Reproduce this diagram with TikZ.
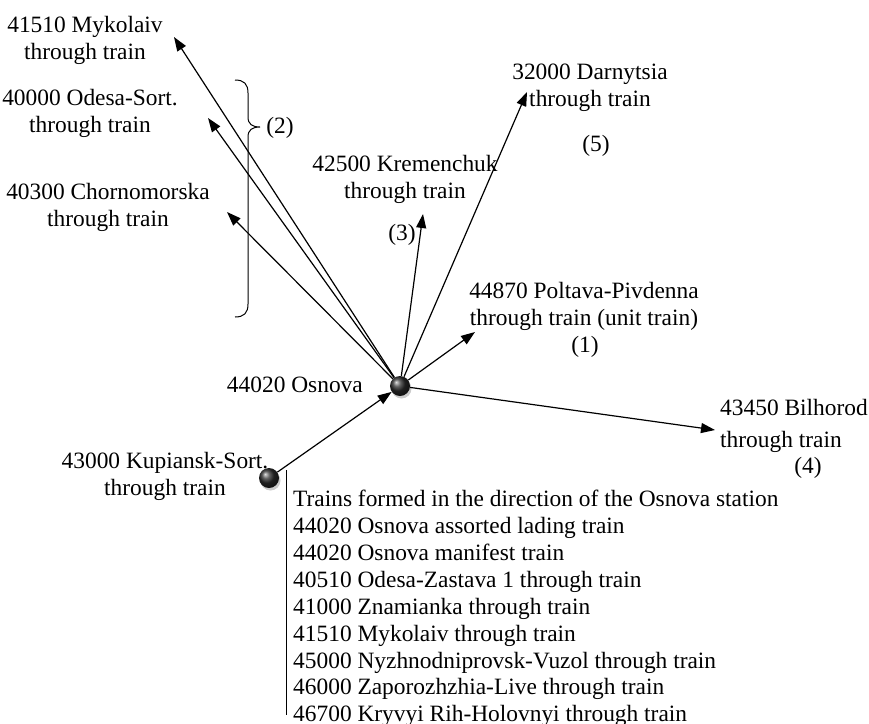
\documentclass[tikz,border=0pt]{standalone}
\usepackage{fontspec}
\setmainfont{Liberation Serif}
\usetikzlibrary{arrows.meta,shadows}

\begin{document}
\begin{tikzpicture}[x=1pt,y=1pt]
\tikzset{every node/.style={inner sep=0pt,font=\fontsize{23.4}{26.9}\selectfont},
  station/.style={circle,minimum size=20pt,shading=ball,ball color=gray!35!black,
    drop shadow={shadow xshift=1.5pt,shadow yshift=-2.5pt,fill=gray!80}},
  route/.style={line width=1.2pt,-{Triangle[length=14pt,width=10pt]}}}
\useasboundingbox (0,0) rectangle (869,-723);
\node [station] (osn) at (400,-386) {};
\node [station] (kups) at (269,-478) {};
\node [anchor=east] (osnl) at (363,-385) {44020 Osnova};
\node [align=center] (kup) at (165,-476) {43000 Kupiansk-Sort.\\through train};
\node [align=center] (myk) at (85,-40) {41510 Mykolaiv\\through train};
\node [align=center] (ode) at (90,-113) {40000 Odesa-Sort.\\through train};
\node [align=center] (cho) at (108,-207) {40300 Chornomorska\\through train};
\node [align=center] (kre) at (405,-179) {42500 Kremenchuk\\through train};
\node [align=center] (dar) at (590,-88) {32000 Darnytsia\\through train};
\node [align=center] (pol) at (584,-306) {44870 Poltava-Pivdenna\\through train (unit train)};
\node [align=left,anchor=west] (bil) at (720,-426) {43450 Bilhorod\\[5pt]through train};
\node (n1) at (585,-347) {(1)};
\node (n2) at (280,-128) {(2)};
\node (n3) at (402,-235) {(3)};
\node (n4) at (808,-468) {(4)};
\node (n5) at (596,-146) {(5)};
\node [align=left,anchor=north west] (list) at (293,-490) {Trains formed in the direction of the Osnova station\\
44020 Osnova assorted lading train\\
44020 Osnova manifest train\\
40510 Odesa-Zastava 1 through train\\
41000 Znamianka through train\\
41510 Mykolaiv through train\\
45000 Nyzhnodniprovsk-Vuzol through train\\
46000 Zaporozhzhia-Live through train\\
46700 Kryvyi Rih-Holovnyi through train};
\coordinate (mykt) at (174,-37);
\coordinate (odet) at (208,-118);
\coordinate (chot) at (227,-212);
\coordinate (kret) at (423,-214);
\coordinate (dart) at (527,-92);
\coordinate (polt) at (475,-332);
\coordinate (bilt) at (715,-430);
\draw [route] (kups) -- (osn);
\draw [route] (osn) -- (mykt);
\draw [route] (osn) -- (odet);
\draw [route] (osn) -- (chot);
\draw [route] (osn) -- (kret);
\draw [route] (osn) -- (dart);
\draw [route] (osn) -- (polt);
\draw [route] (osn) -- (bilt);
\draw [line width=1pt] (235,-80) .. controls (244,-80) and (248,-84) .. (248,-93) -- (248,-117)
  .. controls (248,-124) and (252,-127) .. (260,-127) .. controls (252,-127) and (248,-130) .. (248,-137)
  -- (248,-304) .. controls (248,-313) and (244,-317) .. (235,-317);
\draw [line width=1pt] ([xshift=-7pt,yshift=20pt]list.north west) -- ([xshift=-7pt,yshift=12pt]list.south west);
\end{tikzpicture}
\end{document}
